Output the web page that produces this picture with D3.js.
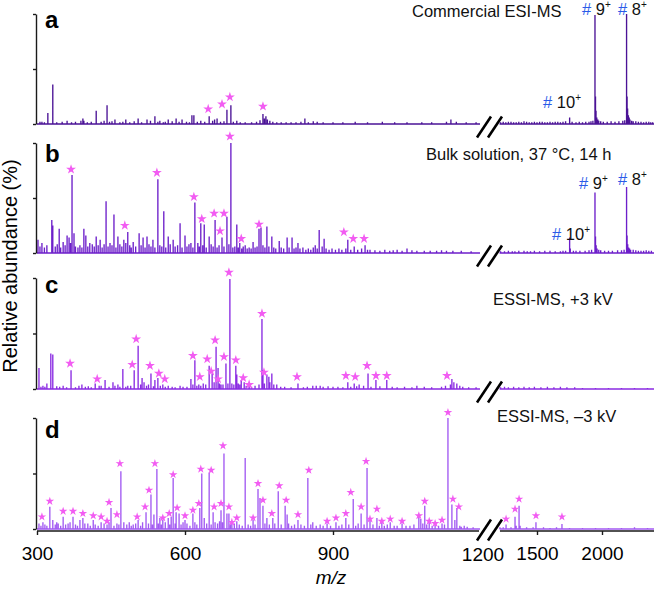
<!DOCTYPE html>
<html><head><meta charset="utf-8">
<script src="https://cdn.jsdelivr.net/npm/d3@7"></script>
<style>body{margin:0;background:#fff}svg{display:block}text{font-family:"Liberation Sans",Arial,Helvetica,sans-serif}</style>
</head><body><svg id="chart" width="654" height="589"></svg>
<script>
// ---------------- data ----------------
const xTicksLeft = [300, 600, 900];
const xTicksRight = [1500, 2000];
const breakValue = 1200;
const yTicks = [0, 50, 100];
const panelLetters = ["a", "b", "c", "d"];
const panelTitles = ["Commercial ESI-MS", "Bulk solution, 37 \u00B0C, 14 h", "ESSI-MS, +3 kV", "ESSI-MS, \u20133 kV"];
const chargeStates = ["10", "9", "8"];
const xTitle = "m/z";
const yTitle = "Relative abundance (%)";

// [m/z, relative abundance %]
const peaksA = [[306,2],[310,2],[315,1.5],[322,10],[332,36],[340,1.5],[351,2],[361,3],[370,1.5],[378,2],[389,3],[393,5],[395,3],[402,1.5],[410,2],[420,12],[430,2],[436,3],[442,17],[447,2],[452,2.5],[458,4],[468,1.5],[474,2],[480,4],[488,1.5],[497,2.5],[505,5],[512,1.5],[523,4],[530,3],[539,7],[545,2],[549,3],[556,1.5],[560,2],[566,4],[574,2.5],[582,5],[588,2],[594,4],[603,2],[609,1.5],[614,8],[618,8],[625,2],[632,3],[640,2],[649,7],[656,3],[660,4],[665,5],[672,2],[679,2.5],[685,13],[693,17],[698,2],[705,3],[712,1.5],[722,1.5],[735,1.5],[745,2],[752,3.5],[758,9],[761,5],[764,7],[767,4],[772,3],[778,2],[786,1.5],[795,1.5],[805,1.5],[815,1.5],[825,1.5],[835,2],[843,5],[850,1.5],[860,2.5],[868,2],[880,1.5],[900,1.5],[920,1.5],[945,2],[970,1.5],[1000,2],[1025,1.5],[1050,1.5],[1080,1.5],[1100,1.5],[1130,2],[1139,4],[1150,2],[1170,1.5],[1190,1.5],
[1220,1.5],[1240,2],[1260,1.5],[1280,2],[1300,2],[1320,1.5],[1340,1.5],[1360,2],[1380,1.5],[1400,2.5],[1420,2],[1440,1.5],[1460,1.5],[1480,2],[1500,1.5],[1520,2],[1540,2],[1560,1.5],[1580,1.5],[1600,2],[1620,1.5],[1640,2],[1660,2],[1680,1.5],[1700,2],[1720,2.5],[1751,6],[1770,2],[1800,1.5],[1825,2],[1850,1.5],[1875,2],[1900,2],[1915,2.5],[1930,3],[1946,99],[1950,25],[1954,12],[1960,6],[1968,4],[1975,3],[1990,2.5],[2010,2],[2040,2],[2070,2.5],[2100,2],[2130,2.5],[2160,3],[2175,3.5],[2189,100],[2193,25],[2197,14],[2203,8],[2209,6],[2215,4],[2228,3],[2240,2.5],[2260,2.5],[2280,2],[2300,2],[2320,1.5],[2340,2],[2360,2],[2375,1.5],[2390,1.5]];

const peaksB = [[302,12],[306,6],[310,9],[315,5],[320,7],[330,30],[332,25],[337,6],[341,8],[345,22],[348,5],[353,10],[357,7],[361,16],[365,14],[368,9],[371,71],[375,18],[378,6],[383,5],[387,7],[391,5],[395,22],[399,16],[403,6],[407,9],[412,8],[416,6],[420,15],[424,7],[428,12],[432,5],[436,8],[440,47],[444,6],[448,9],[452,7],[456,35],[460,5],[464,15],[468,8],[472,6],[476,12],[480,9],[484,19],[488,7],[491,5],[495,10],[500,6],[507,18],[511,7],[515,14],[519,5],[523,15],[527,8],[531,6],[535,12],[539,5],[545,67],[549,7],[553,6],[557,38],[561,5],[566,15],[570,8],[576,12],[580,6],[585,7],[590,27],[594,5],[600,16],[604,6],[608,8],[612,9],[616,5],[620,46],[626,9],[629,6],[632,27],[636,7],[639,26],[643,5],[649,15],[653,8],[657,6],[661,30],[665,5],[669,7],[675,14],[679,6],[685,33],[689,8],[693,100],[697,5],[701,6],[705,26],[708,5],[711,9],[715,4],[718,6],[722,7],[726,4],[730,5],[734,4],[738,10],[742,5],[746,6],[750,22],[754,23],[758,7],[762,5],[766,24],[770,6],[776,15],[780,5],[784,4],[791,11],[795,5],[800,4],[807,14],[811,5],[817,14],[821,4],[825,5],[829,9],[833,4],[839,5],[845,3],[850,4],[855,3],[860,5],[864,7],[868,4],[872,21],[878,6],[882,13],[886,4],[892,3],[898,4],[905,3],[912,4],[918,3],[926,4],[930,12],[936,3],[943,6],[950,3],[958,4],[965,7],[970,3],[975,3],[985,2.5],[995,2],[1005,3],[1015,2],[1022,2.5],[1030,3],[1040,2],[1050,4],[1060,2.5],[1070,2],[1085,2],[1097,2],[1110,2],[1120,2.5],[1130,2],[1143,2],[1160,2],[1180,1.5],
[1220,1.5],[1250,1.5],[1280,2],[1310,1.5],[1330,1.5],[1360,2],[1400,2],[1425,1.5],[1450,1.5],[1480,2],[1520,1.5],[1560,2],[1600,2],[1640,1.5],[1680,1.5],[1700,2],[1720,2],[1751,14],[1756,4],[1780,2],[1800,2],[1830,2],[1870,2],[1900,2.5],[1920,3],[1946,55],[1950,15],[1955,7],[1962,4],[1975,3],[1990,2.5],[2020,2],[2050,2],[2080,2],[2120,2.5],[2150,2.5],[2170,3],[2189,60],[2193,16],[2198,8],[2205,5],[2212,4],[2220,3],[2240,3],[2260,2.5],[2280,2],[2300,2],[2320,2],[2340,2.5],[2360,2],[2380,2]];

const peaksC = [[304,19],[308,2],[312,3],[316,2],[320,5],[328,32],[332,31],[340,2.5],[346,2],[353,3],[360,1.5],[369,17],[378,1.5],[385,3],[391,4],[398,2],[404,2.5],[410,1.5],[418,5],[426,3],[430,3],[438,8],[446,2],[454,6],[458,3],[464,4],[468,2],[474,18],[480,2],[484,3],[490,3],[497,17],[505,39],[510,4],[513,10],[517,6],[522,3],[526,4],[531,14],[536,2.5],[539,8],[545,10],[550,3],[555,4],[560,2],[566,3],[574,2],[580,1.5],[590,3],[596,2],[604,2],[612,9],[616,4],[620,26],[624,3],[628,4],[632,3],[637,5],[642,4],[649,21],[655,14],[659,6],[663,38],[667,19],[670,5],[673,4],[677,4],[683,23],[687,5],[691,99],[695,5],[699,4],[703,21],[705,13],[708,5],[711,4],[714,8],[720,6],[724,3],[730,4],[735,2],[742,3],[750,4],[756,63],[758,17],[761,5],[766,13],[770,11],[772,6],[776,14],[780,4],[786,4],[794,2],[802,2],[815,1.5],[829,5],[840,1.5],[848,2],[859,3],[866,3],[874,3],[880,2],[890,2.5],[900,2],[910,2],[920,1.5],[930,6],[936,2],[943,5],[948,2.5],[953,4],[962,3],[971,14],[977,2],[987,8],[995,2.5],[1009,8],[1020,2],[1030,1.5],[1045,2],[1060,1.5],[1070,3],[1085,2],[1100,1.5],[1120,2],[1128,3],[1138,4],[1141,9],[1145,6],[1151,5],[1157,3],[1163,2],[1175,1.5],[1190,1.5],
[1220,1.5],[1250,2],[1280,1.5],[1320,2],[1360,1.5],[1400,2],[1440,1.5],[1480,2],[1530,1.5],[1580,2],[1630,1.5],[1680,2],[1730,1.5],[1790,1.5],[1850,1],[1950,1],[2050,1],[2150,1],[2250,1],[2350,1]];

const peaksD = [[304,5],[308,3],[312,6],[316,4],[320,3],[326,20],[332,8],[337,4],[340,6],[343,5],[348,3],[353,11],[358,4],[363,5],[367,6],[373,11],[378,4],[382,3],[387,8],[393,10],[397,5],[403,5],[408,3],[414,8],[418,4],[424,3],[430,6],[436,5],[442,4],[446,6],[450,19],[456,3],[462,5],[466,4],[470,52],[476,6],[482,4],[487,6],[491,3],[495,4],[500,5],[505,8],[510,3],[514,6],[521,15],[526,5],[531,31],[534,4],[537,13],[543,54],[546,5],[549,10],[552,4],[555,8],[560,6],[566,10],[569,4],[572,11],[576,46],[580,5],[582,15],[588,14],[592,4],[596,6],[600,8],[604,5],[610,3],[616,14],[620,6],[624,4],[630,19],[634,50],[639,10],[644,5],[649,51],[653,4],[657,15],[661,6],[666,5],[670,7],[673,17],[676,6],[679,68],[685,14],[689,14],[692,4],[695,6],[700,5],[705,7],[710,4],[716,3],[722,64],[728,4],[733,3],[738,8],[742,4],[748,36],[752,28],[758,21],[762,5],[766,10],[771,4],[778,10],[782,5],[789,34],[795,4],[803,21],[807,13],[810,5],[816,3],[822,4],[829,8],[835,4],[842,3],[849,46],[855,4],[859,6],[866,3],[874,4],[880,3],[888,5],[895,3],[906,6],[912,3],[918,4],[926,10],[932,4],[941,27],[946,3],[951,5],[957,14],[963,4],[969,55],[975,10],[981,4],[989,10],[994,3],[999,6],[1004,3],[1010,4],[1016,6],[1024,3],[1030,3],[1040,5],[1048,3],[1056,3],[1064,4],[1074,12],[1078,9],[1082,5],[1086,21],[1090,4],[1095,6],[1101,3],[1107,4],[1114,3],[1121,5],[1126,4],[1133,100],[1141,22],[1147,8],[1151,19],[1157,3],[1160,2],[1166,3],[1172,2],[1184,1.5],
[1215,1.5],[1240,1.5],[1262,4],[1300,1.5],[1331,11],[1340,3],[1362,21],[1370,3],[1420,1.5],[1470,1.5],[1492,6],[1550,1.5],[1600,1],[1650,1.5],[1692,4.5],[1750,1],[1850,1],[1950,1],[2050,1],[2150,1],[2250,1.5],[2350,1]];

// annotated (*) species: [m/z, level %]
const starsA = [[647,13.6],[675,18],[691,24.5],[758,16]];
const starsB = [[369,76],[478,25],[543,73],[618,51],[634,31],[659,36],[671,20],[679,36],[691,106],[714,13],[750,26],[922,19],[941,13],[963,13]];
const starsC = [[367,23],[422,9],[493,22],[501,45],[529,21],[547,14],[559,9],[616,30],[630,11],[645,27],[653,16],[661,44],[667,9],[679,29],[689,105],[703,26],[718,10],[730,4],[756,68],[760,15],[827,11],[926,12],[945,11],[969,21],[987,12],[1009,12],[1131,12]];
const starsD = [[310,11],[326,25],[353,16],[373,16],[393,14],[414,12],[430,11],[442,7],[446,24],[462,13],[468,59],[503,11],[519,20],[527,35],[539,59],[555,10],[568,14],[576,49],[584,19],[600,12],[616,17],[628,23],[632,54],[653,53],[659,20],[673,23],[677,75],[689,20],[695,6],[705,10],[738,10],[748,41],[758,26],[776,14],[791,39],[805,26],[829,13],[851,53],[888,7],[906,10],[926,14],[936,33],[957,20],[967,61],[975,9],[989,18],[999,7],[1016,9],[1040,7],[1074,12],[1086,25],[1095,7],[1107,5],[1121,8],[1133,105],[1143,27],[1155,20],
[1262,9],[1331,18],[1362,27],[1492,12],[1692,11]];

// charge-state peaks marked with # (panels a and b)
const chargeMz = [1751, 1946, 2189];

const panelPeaks = [peaksA, peaksB, peaksC, peaksD];
const panelStars = [starsA, starsB, starsC, starsD];

// ---------------- layout ----------------
const svg = d3.select("#chart");
const xL = d3.scaleLinear().domain([300, breakValue]).range([37, 481]);
const xR = d3.scaleLinear().domain([breakValue, 2400]).range([498, 654]);
const xm = v => v <= breakValue ? xL(v) : xR(v);

const layout = [
  {top: 14, base: 124, color: "#4b1396", letterY: 28, title: [412, 17], star: 5.2,
   charges: [[543, 108], [582, 15], [618, 15]]},
  {top: 143, base: 253, color: "#6d1fca", letterY: 162, title: [426, 160], star: 5.2,
   charges: [[552, 240], [579, 189], [618, 185]]},
  {top: 278, base: 389, color: "#8a2be2", letterY: 293, title: [493, 305], star: 5.2},
  {top: 418, base: 529, color: "#a25af2", letterY: 438, title: [497, 422], star: 4.5}
];
const axisColor = "#1a1a1a";
const starColor = "#f25cf2";
const hashColor = "#2a5be8";

// slim five-armed asterisk-like star path centred at 0,0
function starPath(r) {
  const pts = [];
  for (let k = 0; k < 10; k++) {
    const a = -Math.PI / 2 + k * Math.PI / 5;
    const rr = k % 2 === 0 ? r : r * 0.38;
    pts.push([rr * Math.cos(a), rr * Math.sin(a)]);
  }
  return "M" + pts.map(p => p[0].toFixed(2) + "," + p[1].toFixed(2)).join("L") + "Z";
}

layout.forEach((L, i) => {
  const g = svg.append("g");
  const y = d3.scaleLinear().domain([0, 100]).range([L.base, L.top]);

  // baseline
  g.append("path")
    .attr("d", `M${xL(300)},${L.base}H${xL(1198)}M${xR(1212)},${L.base}H${xR(2400)}`)
    .attr("stroke", L.color).attr("stroke-width", 1.5).attr("fill", "none");

  // peaks
  g.append("path")
    .attr("d", panelPeaks[i].map(p => `M${xm(p[0]).toFixed(2)},${L.base}V${y(p[1]).toFixed(2)}`).join(""))
    .attr("stroke", L.color).attr("stroke-width", 1.35).attr("fill", "none");

  // y axis
  const ya = g.append("g").attr("transform", "translate(36,0)")
    .call(d3.axisLeft(y).tickValues(yTicks).tickSize(3).tickSizeOuter(0).tickFormat(""));
  ya.selectAll("path,line").attr("stroke", axisColor).attr("stroke-width", 1.4);

  // stars
  const sp = starPath(L.star);
  g.selectAll("path.star").data(panelStars[i]).join("path")
    .attr("class", "star")
    .attr("transform", d => `translate(${xm(d[0]).toFixed(2)},${y(d[1]).toFixed(2)})`)
    .attr("d", sp).attr("fill", starColor);

  // letter
  g.append("text").attr("x", 45).attr("y", L.letterY)
    .attr("font-size", 24).attr("font-weight", "bold").attr("fill", "#000")
    .text(panelLetters[i]);

  // title
  g.append("text").attr("x", L.title[0]).attr("y", L.title[1])
    .attr("font-size", 16.5).attr("fill", "#111").text(panelTitles[i]);

  // charge labels
  if (L.charges) {
    L.charges.forEach((c, k) => {
      const t = g.append("text").attr("x", c[0]).attr("y", c[1]).attr("font-size", 16.5);
      t.append("tspan").attr("fill", hashColor).text("#");
      t.append("tspan").attr("fill", "#111").text(" " + chargeStates[k]);
      t.append("tspan").attr("fill", "#111").attr("font-size", 10).attr("dy", -7).text("+");
    });
  }

  // axis break marks
  const cy = i < 3 ? L.base + 3 : 530;
  [484, 495].forEach(cx => {
    g.append("line").attr("x1", cx - 7).attr("y1", cy + 10.5).attr("x2", cx + 7).attr("y2", cy - 10.5)
      .attr("stroke", "#000").attr("stroke-width", 2.6);
  });
});

// x axis (bottom panel)
const axY = 531;
const xg = svg.append("g");
xg.append("path").attr("d", `M${xL(300)},${axY}H${xL(1196)}M${xR(1215)},${axY}H${xR(2400)}`)
  .attr("stroke", axisColor).attr("stroke-width", 1.4).attr("fill", "none");
const axL = xg.append("g").attr("transform", `translate(0,${axY})`)
  .call(d3.axisBottom(xL).tickValues(xTicksLeft).tickSize(4).tickPadding(12).tickFormat(d3.format("d")));
const axR = xg.append("g").attr("transform", `translate(0,${axY})`)
  .call(d3.axisBottom(xR).tickValues(xTicksRight).tickSize(4).tickPadding(12).tickFormat(d3.format("d")));
[axL, axR].forEach(a => {
  a.select(".domain").remove();
  a.selectAll("line").attr("stroke", axisColor).attr("stroke-width", 1.4);
  a.selectAll("text").attr("font-size", 19).attr("fill", "#000")
    .attr("font-family", '"Liberation Sans",Arial,sans-serif');
});
xg.append("text").attr("x", xL(breakValue) + 2).attr("y", 561).attr("text-anchor", "middle")
  .attr("font-size", 19).attr("fill", "#000").text(d3.format("d")(breakValue));

// axis titles
svg.append("text").attr("x", 331).attr("y", 584).attr("text-anchor", "middle")
  .attr("font-size", 19).attr("font-style", "italic").attr("fill", "#000").text(xTitle);
svg.append("text").attr("transform", "translate(17,266) rotate(-90)").attr("text-anchor", "middle")
  .attr("font-size", 20).attr("fill", "#000").text(yTitle);
</script></body></html>
